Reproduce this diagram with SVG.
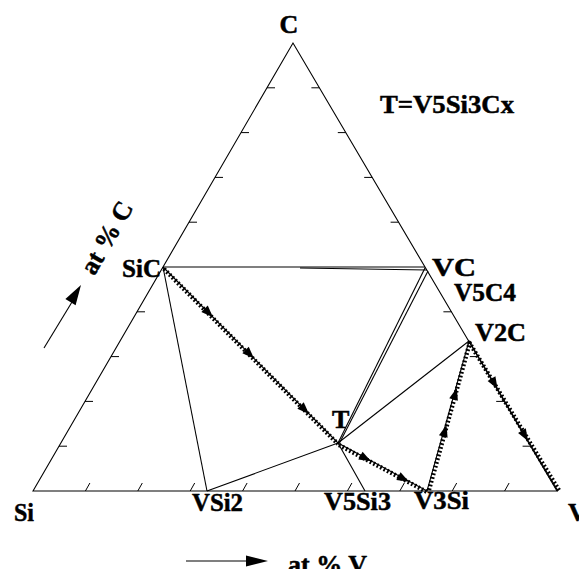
<svg xmlns="http://www.w3.org/2000/svg" width="579" height="569" viewBox="0 0 579 569">
<style>
.ln{stroke:#000;stroke-width:1.1;fill:none}
.tk{stroke:#000;stroke-width:1;fill:none}
.ht{stroke:#000;stroke-width:4.4;stroke-dasharray:1.8 2.1;fill:none}
.lb{font-family:"Liberation Serif","Times New Roman",serif;font-weight:bold;font-size:26px;fill:#000;stroke:#000;stroke-width:0.5}
</style>
<defs>
<path id="ah" d="M0,0 L-12,-4.5 L-12,4.5 Z" fill="#000"/>
</defs>
<rect width="579" height="569" fill="#fff"/>
<g id="frame">
<path class="ln" d="M33,491 L293,43 L557,491 Z"/>
<path class="tk" d="M85.4,491 l4.5,-8 M137.8,491 l4.5,-8 M190.2,491 l4.5,-8 M242.6,491 l4.5,-8 M295,491 l4.5,-8 M347.4,491 l4.5,-8 M399.8,491 l4.5,-8 M452.2,491 l4.5,-8 M504.6,491 l4.5,-8"/>
<path class="tk" d="M59,446.2 h8 M85,401.4 h8 M111,356.6 h8 M137,311.8 h8 M189,222.2 h8 M215,177.4 h8 M241,132.6 h8 M267,87.8 h8"/>
<path class="tk" d="M530.6,446.2 h-8 M504.2,401.4 h-8 M477.8,356.6 h-8 M451.4,311.8 h-8 M398.6,222.2 h-8 M372.2,177.4 h-8 M345.8,132.6 h-8 M319.4,87.8 h-8"/>
</g>
<g id="connectors">
<path class="ln" d="M163,267 L425,267"/>
<path class="ln" d="M300,268 L427,270"/>
<path class="ln" d="M163,267 L207,491"/>
<path class="ln" d="M207,491 L338,443"/>
<path class="ln" d="M338,443 L365,491"/>
<path class="ln" d="M338,443 L469,341"/>
<path class="ln" d="M425,268 L338,443"/>
<path class="ln" d="M428,271 L339.5,443"/>
<path class="ln" d="M163,267 L338,443 L427,491 L469,341 L558,491"/>
<path class="ht" d="M164,269 L338,444"/>
<path class="ht" d="M339,445 L427,492"/>
<path class="ht" d="M429,490 L470,342"/>
<path class="ht" d="M469,342 L560,492"/>
<use href="#ah" transform="translate(213,317.3) rotate(45.2)"/>
<use href="#ah" transform="translate(254,358.5) rotate(45.2)"/>
<use href="#ah" transform="translate(309,414) rotate(45.2)"/>
<use href="#ah" transform="translate(371,461.3) rotate(28.3)"/>
<use href="#ah" transform="translate(409,481.8) rotate(28.3)"/>
<use href="#ah" transform="translate(446.5,425) rotate(-74.4)"/>
<use href="#ah" transform="translate(456.8,388) rotate(-74.4)"/>
<use href="#ah" transform="translate(497.6,389) rotate(59.6)"/>
<use href="#ah" transform="translate(528,441) rotate(59.6)"/>
</g>
<g id="n-C"><text class="lb" x="289" y="33" text-anchor="middle">C</text></g>
<g id="n-note"><text class="lb" x="380" y="113" textLength="134" lengthAdjust="spacingAndGlyphs">T=V5Si3Cx</text></g>
<g id="n-SiC"><text class="lb" x="122" y="277" textLength="39" lengthAdjust="spacingAndGlyphs">SiC</text></g>
<g id="n-VC"><text class="lb" x="432" y="276" textLength="44" lengthAdjust="spacingAndGlyphs">VC</text></g>
<g id="n-V5C4"><text class="lb" x="454" y="301" textLength="62" lengthAdjust="spacingAndGlyphs">V5C4</text></g>
<g id="n-V2C"><text class="lb" x="475" y="341" textLength="51" lengthAdjust="spacingAndGlyphs">V2C</text></g>
<g id="n-T"><text class="lb" x="332" y="428">T</text></g>
<g id="n-Si"><text class="lb" x="14" y="521" textLength="20" lengthAdjust="spacingAndGlyphs">Si</text></g>
<g id="n-VSi2"><text class="lb" x="192" y="511" textLength="51" lengthAdjust="spacingAndGlyphs">VSi2</text></g>
<g id="n-V5Si3"><text class="lb" x="324" y="510" textLength="67" lengthAdjust="spacingAndGlyphs">V5Si3</text></g>
<g id="n-V3Si"><text class="lb" x="414" y="509" textLength="55" lengthAdjust="spacingAndGlyphs">V3Si</text></g>
<g id="n-V"><text class="lb" x="568" y="521">V</text></g>
<g id="axis-C">
<text class="lb" transform="translate(114,242) rotate(-60)" text-anchor="middle">at % C</text>
<path class="ln" stroke-width="1.6" d="M44,348 L72,302"/>
<path d="M81,285 L65.4,298.9 L75.6,305.2 Z" fill="#000"/>
</g>
<g id="axis-V">
<path class="ln" stroke-width="1.6" d="M186,561 L250,561"/>
<path d="M268,561 L246,555.5 L246,566.5 Z" fill="#000"/>
<text class="lb" x="288" y="573">at % V</text>
</g>
</svg>
